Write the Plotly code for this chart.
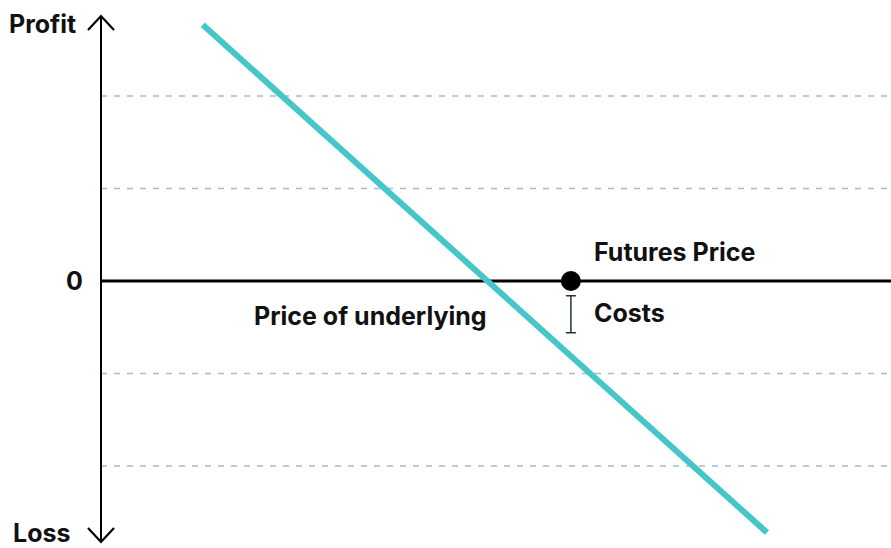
import plotly.graph_objects as go

# Data (units: one gridline step = 1)
payoff_x = [1.10, 7.20]
payoff_y = [2.77, -2.72]
grid_levels = [2, 1, -1, -2]
futures_price_x = [5.08]
futures_price_y = [0]
costs_x = [5.08]
costs_low = [-0.56]
costs_high = [-0.16]

U = 92.5  # px per unit
X_MIN = -101 / U
X_MAX = 790 / U
Y_TOP = 281 / U
Y_BOT = -(548 - 281) / U

fig = go.Figure()

# gridlines
for g in grid_levels:
    fig.add_trace(go.Scatter(x=[0, X_MAX], y=[g, g], mode="lines",
                             line=dict(color="#A6BCC6", width=1.3, dash="6px,7px"),
                             hoverinfo="skip", showlegend=False))

# zero line
fig.add_trace(go.Scatter(x=[0, X_MAX], y=[0, 0], mode="lines",
                         line=dict(color="#000000", width=3),
                         hoverinfo="skip", showlegend=False))

# payoff line
fig.add_trace(go.Scatter(x=payoff_x, y=payoff_y, mode="lines",
                         line=dict(color="#45C6C9", width=6),
                         hoverinfo="skip", showlegend=False))

# costs bar
fig.add_trace(go.Scatter(x=costs_x, y=[(costs_low[0] + costs_high[0]) / 2], mode="markers",
                         marker=dict(size=0.1, color="rgba(0,0,0,0)"),
                         error_y=dict(type="data", symmetric=True,
                                      array=[(costs_high[0] - costs_low[0]) / 2],
                                      color="#25333D", thickness=1.5, width=5),
                         hoverinfo="skip", showlegend=False))

# futures price dot
fig.add_trace(go.Scatter(x=futures_price_x, y=futures_price_y, mode="markers",
                         marker=dict(size=20, color="#000000"),
                         hoverinfo="skip", showlegend=False, cliponaxis=False))

# vertical axis with chevron arrows
ax_top = (281 - 16) / U
ax_bot = -(542 - 281) / U
fig.add_shape(type="line", x0=0, x1=0, y0=ax_bot, y1=ax_top, xref="x", yref="y",
              line=dict(color="#000000", width=2))
dx = 13 / U
dy = 14 / U
fig.add_shape(type="path", xref="x", yref="y",
              path=f"M {-dx} {ax_top - dy} L 0 {ax_top} L {dx} {ax_top - dy}",
              line=dict(color="#000000", width=2.2))
fig.add_shape(type="path", xref="x", yref="y",
              path=f"M {-dx} {ax_bot + dy} L 0 {ax_bot} L {dx} {ax_bot + dy}",
              line=dict(color="#000000", width=2.2))

font = dict(family="Inter", size=25, color="#111111", weight="bold")
def label(text, x, y, xanchor):
    fig.add_annotation(x=x, y=y, xref="x", yref="y", text=text,
                       showarrow=False, xanchor=xanchor, yanchor="middle", font=font,
                       borderpad=0)

label("Profit", -24 / U, (281 - 24) / U, "right")
label("Loss", -30 / U, -(533 - 281) / U, "right")
label("0", -17 / U, 0, "right")
label("Futures Price", (593 - 101) / U, (281 - 252) / U, "left")
label("Costs", (593 - 101) / U, -(313 - 281) / U, "left")
label("Price of underlying", (488 - 101) / U, -(316 - 281) / U, "right")

fig.update_layout(
    width=891, height=548,
    margin=dict(l=0, r=0, t=0, b=0),
    plot_bgcolor="white", paper_bgcolor="white",
    xaxis=dict(range=[X_MIN, X_MAX], visible=False, fixedrange=True),
    yaxis=dict(range=[Y_BOT, Y_TOP], visible=False, fixedrange=True),
    showlegend=False,
)

fig.write_html("out.html", config={"displayModeBar": False},
               post_script="document.body.style.margin='0';document.body.style.overflow='hidden';")
